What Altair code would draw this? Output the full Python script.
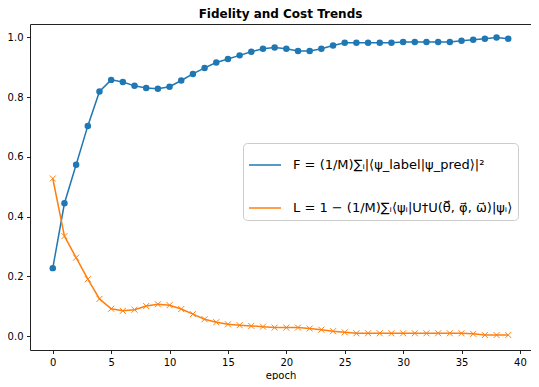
import altair as alt
import pandas as pd

epochs = list(range(40))
fidelity = [0.228, 0.445, 0.574, 0.704, 0.819, 0.858, 0.851, 0.838, 0.831, 0.828,
            0.835, 0.856, 0.878, 0.898, 0.916, 0.928, 0.940, 0.952, 0.962, 0.966,
            0.962, 0.955, 0.955, 0.962, 0.973, 0.982, 0.982, 0.982, 0.982, 0.982,
            0.985, 0.985, 0.985, 0.985, 0.985, 0.989, 0.992, 0.996, 1.000, 0.996]
cost = [0.528, 0.335, 0.263, 0.191, 0.125, 0.092, 0.085, 0.089, 0.101, 0.107,
        0.104, 0.091, 0.074, 0.057, 0.047, 0.040, 0.037, 0.0345, 0.032, 0.029,
        0.029, 0.029, 0.026, 0.022, 0.017, 0.013, 0.010, 0.010, 0.010, 0.010,
        0.010, 0.010, 0.010, 0.010, 0.010, 0.010, 0.008, 0.004, 0.004, 0.004]

F_LABEL = "F = (1/M)\u2211\u1d62|\u27e8\u03c8_label|\u03c8_pred\u27e9|\u00b2"
L_LABEL = "L = 1 \u2212 (1/M)\u2211\u1d62\u27e8\u03c8\u1d62|U\u2020U(\u03b8\u20d7, \u03c6\u20d7, \u03c9\u20d7)|\u03c8\u1d62\u27e9"
series = [F_LABEL, L_LABEL]
colors = ["#1f77b4", "#ff7f0e"]
x_ticks = [0, 5, 10, 15, 20, 25, 30, 35, 40]
y_ticks = [0.0, 0.2, 0.4, 0.6, 0.8, 1.0]

df = pd.DataFrame({
    "epoch": epochs + epochs,
    "value": fidelity + cost,
    "series": [F_LABEL] * len(epochs) + [L_LABEL] * len(epochs),
})

X_PATH = "M-1,-1L1,1M-1,1L1,-1"

x_enc = alt.X("epoch:Q",
              scale=alt.Scale(domain=[-1.95, 40.95], nice=False, zero=False),
              axis=alt.Axis(values=x_ticks, title="epoch", format="d"))
y_enc = alt.Y("value:Q",
              scale=alt.Scale(domain=[-0.046, 1.045], nice=False, zero=False),
              axis=alt.Axis(values=y_ticks, title=None, format=".1f"))

base = alt.Chart(df)

legend = alt.Legend(
    title=None, orient="none", legendX=213, legendY=119,
    symbolType="M-1,0L1,0", symbolSize=1024, symbolStrokeWidth=1.5,
    labelFont="DejaVu Sans", labelFontSize=13, labelColor="black", labelLimit=400,
    fillColor="white", strokeColor="#cccccc", cornerRadius=4, padding=5,
    rowPadding=19, labelOffset=11,
)

lines = base.mark_line(strokeWidth=1.5).encode(
    x=x_enc, y=y_enc,
    color=alt.Color("series:N", scale=alt.Scale(domain=series, range=colors), legend=legend),
)

pts_f = base.transform_filter(alt.datum.series == F_LABEL).mark_point(
    shape="circle", filled=True, size=42, color=colors[0], opacity=1
).encode(x=x_enc, y=y_enc)

pts_l = base.transform_filter(alt.datum.series == L_LABEL).mark_point(
    shape=X_PATH, filled=False, size=36, color=colors[1], opacity=1, strokeWidth=1
).encode(x=x_enc, y=y_enc)

chart = alt.layer(lines, pts_f, pts_l).properties(
    width=501,
    height=326,
    title=alt.TitleParams("Fidelity and Cost Trends", fontSize=12, fontWeight="bold",
                          font="DejaVu Sans", color="black", anchor="middle", offset=3),
    autosize=alt.AutoSizeParams(type="none"),
    padding={"left": 22, "top": 16, "right": 0, "bottom": 30},
).configure_view(
    stroke="#222", strokeWidth=1
).configure_axis(
    domain=False, grid=False, ticks=True, tickSize=3.5, tickColor="#222", tickWidth=1,
    labelFont="DejaVu Sans", labelFontSize=10, labelColor="black", labelPadding=3.5,
    titleFont="DejaVu Sans", titleFontSize=10, titleColor="black", titleFontWeight="normal",
    titlePadding=3,
)

chart.save("out.html", embed_options={"renderer": "svg", "actions": False})
